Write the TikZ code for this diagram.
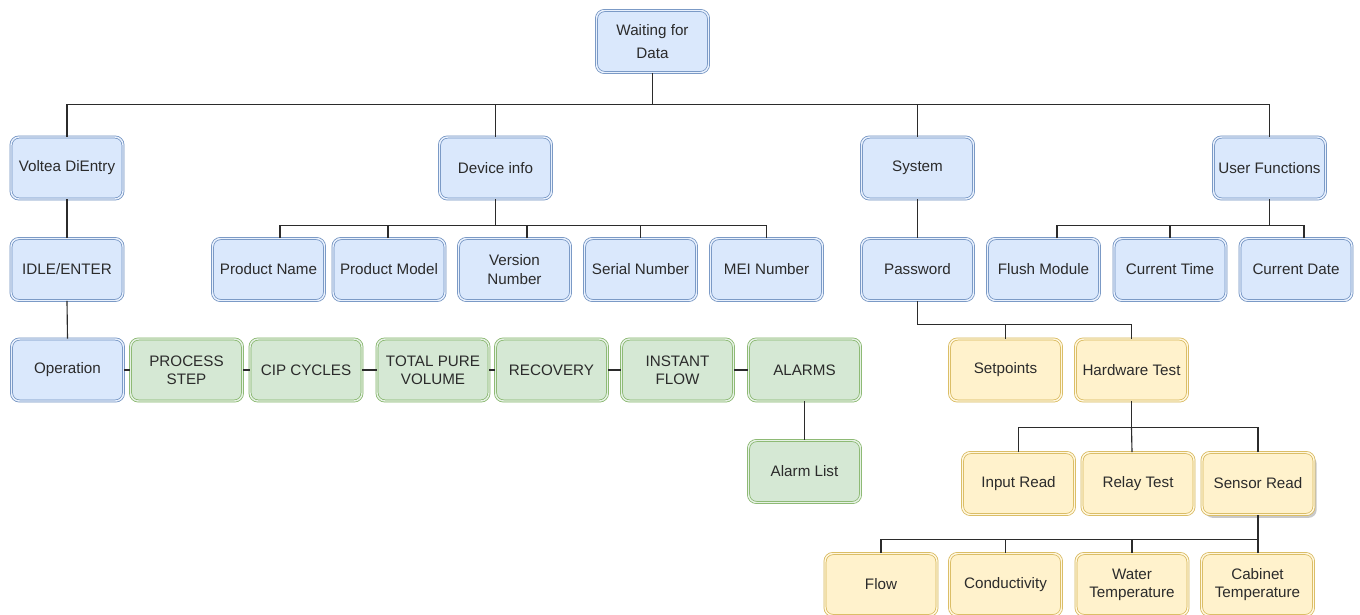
\documentclass[tikz,border=0pt]{standalone}
\usepackage{fontspec}
\setmainfont{Liberation Sans}
\usetikzlibrary{calc,shadows}
\definecolor{bfill}{HTML}{DAE8FC}
\definecolor{bline}{HTML}{6C8EBF}
\definecolor{gfill}{HTML}{D5E8D4}
\definecolor{gline}{HTML}{82B366}
\definecolor{yfill}{HTML}{FFF2CC}
\definecolor{yline}{HTML}{D6B656}
\definecolor{txt}{HTML}{2B2B2B}
\definecolor{edge}{HTML}{2B2B2B}
\tikzset{
  box/.style={rounded corners=6pt, minimum width=84pt, minimum height=46.5pt,
    inner sep=1pt, align=center, text=txt, line width=0.55pt, double distance=1.1pt,
    font=\fontsize{11.4}{13.6}\selectfont},
  bluebox/.style={box, draw=bline, fill=bfill, double=bfill!60!white},
  greenbox/.style={box, draw=gline, fill=gfill, double=gfill!60!white},
  yellowbox/.style={box, draw=yline, fill=yfill, double=yfill!60!white},
  link/.style={draw=edge, line width=0.85pt}
}
\begin{document}
\begin{tikzpicture}[x=0.75pt,y=-0.75pt]
\fill[white] (0,0) rectangle (1360,614);
\useasboundingbox (0,0) rectangle (1360,614);
% level 0
\node[bluebox] (root) at (652.5,41.5) {\raisebox{-2pt}{Waiting for}\\[5pt]Data};
% level 1
\node[bluebox] (volt) at (67,168) {Voltea DiEntry};
\node[bluebox] (dev) at (495.5,168) {Device info};
\node[bluebox] (sys) at (917.5,168) {System};
\node[bluebox] (usr) at (1269.5,168) {User Functions};
% level 2
\node[bluebox] (idle) at (67,269.5) {IDLE/ENTER};
\node[bluebox] (pname) at (268.5,269.5) {Product Name};
\node[bluebox] (pmodel) at (389,269.5) {Product Model};
\node[bluebox] (vers) at (514.5,269.5) {Version\\Number};
\node[bluebox] (serial) at (640.5,269.5) {Serial Number};
\node[bluebox] (mei) at (766.5,269.5) {MEI Number};
\node[bluebox] (pwd) at (917.5,269.5) {Password};
\node[bluebox] (flush) at (1043.5,269.5) {Flush Module};
\node[bluebox] (ctime) at (1170,269.5) {Current Time};
\node[bluebox] (cdate) at (1296,269.5) {Current Date};
% level 3
\node[bluebox] (oper) at (67.5,370) {Operation};
\node[greenbox] (proc) at (186.5,370) {PROCESS\\STEP};
\node[greenbox] (cip) at (306,370) {CIP CYCLES};
\node[greenbox] (tpv) at (433,370) {TOTAL PURE\\VOLUME};
\node[greenbox] (rec) at (551.5,370) {RECOVERY};
\node[greenbox] (inst) at (677.5,370) {INSTANT\\FLOW};
\node[greenbox] (alarms) at (804.5,370) {ALARMS};
\node[greenbox] (alist) at (804.5,471.5) {Alarm List};
\node[yellowbox] (setp) at (1005.5,370) {Setpoints};
\node[yellowbox] (hwt) at (1131.5,370) {Hardware Test};
% level 4
\node[yellowbox] (inread) at (1018.5,483.5) {Input Read};
\node[yellowbox] (relay) at (1138,483.5) {Relay Test};
\node[yellowbox, drop shadow={shadow xshift=2pt, shadow yshift=-2.5pt, opacity=0.35, fill=black!60}] (sensor) at (1258,483.5) {Sensor Read};
% level 5
\node[yellowbox] (flow) at (881,584.5) {Flow};
\node[yellowbox] (cond) at (1005.5,584.5) {Conductivity};
\node[yellowbox] (water) at (1132,584.5) {Water\\Temperature};
\node[yellowbox] (cab) at (1257.5,584.5) {Cabinet\\Temperature};

% connectors: root to level 1
\draw[link] (volt.north) |- ($(root.south)+(0,32)$) -- (root.south);
\draw[link] (dev.north) |- ($(root.south)+(0,32)$);
\draw[link] (sys.north) |- ($(root.south)+(0,32)$);
\draw[link] (usr.north) |- ($(root.south)+(0,32)$);
% Voltea chain
\draw[link] (volt.south) -- (idle.north);
\draw[link] (idle.south) -- (oper.north);
\draw[link] (oper.east) -- (proc.west);
\draw[link] (proc.east) -- (cip.west);
\draw[link] (cip.east) -- (tpv.west);
\draw[link] (tpv.east) -- (rec.west);
\draw[link] (rec.east) -- (inst.west);
\draw[link] (inst.east) -- (alarms.west);
\draw[link] (alarms.south) -- (alist.north);
% Device info children
\draw[link] ($(pname.north)+(11.5,0)$) |- ($(dev.south)+(0,26)$) -- (dev.south);
\draw[link] ($(pmodel.north)+(-1,0)$) |- ($(dev.south)+(0,26)$);
\draw[link] ($(vers.north)+(12.5,0)$) |- ($(dev.south)+(0,26)$);
\draw[link] (serial.north) |- ($(dev.south)+(0,26)$);
\draw[link] (mei.north) |- ($(dev.south)+(0,26)$);
% System
\draw[link] (sys.south) -- (pwd.north);
\draw[link] (setp.north) |- ($(pwd.south)+(0,24)$) -- (pwd.south);
\draw[link] (hwt.north) |- ($(pwd.south)+(0,24)$);
\draw[link] (inread.north) |- ($(hwt.south)+(0,26)$) -- (hwt.south);
\draw[link] ($(relay.north)+(-6,0)$) -- ($(hwt.south)+(0,26)$);
\draw[link] (sensor.north) |- ($(hwt.south)+(0,26)$);
\draw[link] (flow.north) |- ($(sensor.south)+(0,25)$) -- (sensor.south);
\draw[link] (cond.north) |- ($(sensor.south)+(0,25)$);
\draw[link] (water.north) |- ($(sensor.south)+(0,25)$);
\draw[link] ($(cab.north)+(0.5,0)$) -- ($(sensor.south)+(0,25)$);
% User functions
\draw[link] ($(flush.north)+(13.5,0)$) |- ($(usr.south)+(0,26)$) -- (usr.south);
\draw[link] (ctime.north) |- ($(usr.south)+(0,26)$);
\draw[link] ($(cdate.north)+(8,0)$) |- ($(usr.south)+(0,26)$);
\end{tikzpicture}
\end{document}
